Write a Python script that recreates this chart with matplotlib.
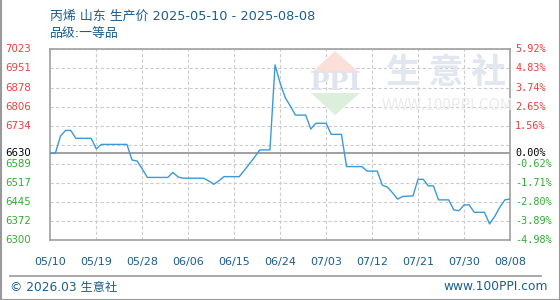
import matplotlib.pyplot as plt
import matplotlib.dates as mdates
import numpy as np
import pandas as pd
from matplotlib.lines import Line2D
from matplotlib.patches import Polygon
from matplotlib.transforms import blended_transform_factory

plt.rcParams['font.family'] = ['Noto Sans CJK SC', 'DejaVu Sans']

# price readings (date, yuan/ton)
dates = ['2025-05-10', '2025-05-11', '2025-05-12', '2025-05-13', '2025-05-14', '2025-05-15',
         '2025-05-18', '2025-05-19', '2025-05-20', '2025-05-25', '2025-05-26', '2025-05-27',
         '2025-05-28', '2025-05-29', '2025-06-02', '2025-06-03', '2025-06-04', '2025-06-05',
         '2025-06-09', '2025-06-10', '2025-06-11', '2025-06-12', '2025-06-13', '2025-06-16',
         '2025-06-17', '2025-06-18', '2025-06-19', '2025-06-20', '2025-06-22', '2025-06-23',
         '2025-06-24', '2025-06-25', '2025-06-26', '2025-06-27', '2025-06-29', '2025-06-30',
         '2025-07-01', '2025-07-03', '2025-07-04', '2025-07-06', '2025-07-07', '2025-07-10',
         '2025-07-11', '2025-07-13', '2025-07-14', '2025-07-15', '2025-07-16', '2025-07-17',
         '2025-07-18', '2025-07-20', '2025-07-21', '2025-07-22', '2025-07-23', '2025-07-24',
         '2025-07-25', '2025-07-27', '2025-07-28', '2025-07-29', '2025-07-30', '2025-07-31',
         '2025-08-01', '2025-08-03', '2025-08-04', '2025-08-05', '2025-08-06', '2025-08-07',
         '2025-08-08']
prices = [6630, 6630, 6695, 6716, 6716, 6686,
          6686, 6646, 6663, 6663, 6604, 6600,
          6570, 6538, 6538, 6557, 6540, 6535,
          6535, 6525, 6512, 6525, 6541, 6541,
          6565, 6590, 6615, 6642, 6642, 6964,
          6895, 6840, 6808, 6774, 6774, 6721,
          6743, 6743, 6701, 6701, 6579, 6579,
          6562, 6562, 6509, 6501, 6480, 6456,
          6466, 6468, 6531, 6531, 6506, 6506,
          6453, 6453, 6415, 6412, 6434, 6434,
          6406, 6406, 6362, 6390, 6425, 6453,
          6456]

base_price = 6630
grid_values = [6300, 6372.3, 6444.6, 6516.9, 6589.2, 6661.5, 6733.8, 6806.1, 6878.4, 6950.7, 7023]
left_labels = ['6300', '6372', '6445', '6517', '6589', '', '6734', '6806', '6878', '6951', '7023']
right_labels = ['-4.98%', '-3.89%', '-2.80%', '-1.71%', '-0.62%', '', '1.56%', '2.65%', '3.74%', '4.83%', '5.92%']
x_ticks = ['2025-05-10', '2025-05-19', '2025-05-28', '2025-06-06', '2025-06-15', '2025-06-24',
           '2025-07-03', '2025-07-12', '2025-07-21', '2025-07-30', '2025-08-08']

title = '丙烯 山东 生产价 2025-05-10 - 2025-08-08'
subtitle = '品级:一等品'

W, H = 560, 300
fig = plt.figure(figsize=(W / 100, H / 100), dpi=100)
ax = fig.add_axes([50.3 / W, 1 - 240.3 / H, (510 - 50.3) / W, (240.3 - 49.3) / H])

blue_dark = '#1b5e8c'
red = '#f03c3c'
green = '#33aa33'
frame = '#a0a0a0'
latin_first = ['DejaVu Sans', 'Noto Sans CJK SC']

# watermark (figure pixel coords)
def px(x, y):
    return (x / W, 1 - y / H)

fig.patches.append(Polygon([px(335, 51), px(311, 73), px(360, 73)], closed=True,
                           transform=fig.transFigure, facecolor='#fbe0da', edgecolor='none', zorder=0))
fig.patches.append(Polygon([px(311, 93), px(360, 93), px(335, 115)], closed=True,
                           transform=fig.transFigure, facecolor='#dcefdc', edgecolor='none', zorder=0))
fig.text(335.5 / W, 1 - 83 / H, 'PPI', ha='center', va='center', fontsize=19,
         color='#dfe4ee', family='DejaVu Serif', fontweight='bold', zorder=0)
fig.text(446 / W, 1 - 72 / H, '生 意 社', ha='center', va='center', fontsize=25,
         color='#e1e6ef', fontweight='bold', zorder=0)
fig.text(447 / W, 1 - 106 / H, 'WWW.100PPI.COM', ha='center', va='center', fontsize=11,
         color='#ebebeb', zorder=0)

ax.set_facecolor('none')

x = pd.to_datetime(dates)
ax.plot(x, prices, color='#3a9ad9', lw=1.0, zorder=3)

xt = pd.to_datetime(x_ticks)
ax.set_xlim(xt[0], xt[-1])
ax.set_ylim(grid_values[0], grid_values[-1])

for v in grid_values:
    ax.axhline(v, color='#cccccc', lw=0.8, ls=(0, (3, 2)), zorder=1)
for d in xt[1:-1]:
    ax.axvline(d, color='#cccccc', lw=0.8, ls=(0, (3, 2)), zorder=1)
ax.axhline(base_price, color='#999999', lw=1.3, zorder=2)

ax.set_xticks(xt)
ax.set_xticklabels([d.strftime('%m/%d') for d in xt], color=blue_dark, fontsize=8,
                   family='DejaVu Sans')
ax.tick_params(axis='x', length=0, pad=12)
ax.set_yticks([])
for s in ax.spines.values():
    s.set_color(frame)
    s.set_linewidth(1.2)

# left / right value labels
tr = blended_transform_factory(fig.transFigure, ax.transData)
for v, lab, pl in zip(grid_values, left_labels, right_labels):
    if not lab:
        continue
    c = red if v > base_price else green
    ax.text(5 / W, v, lab, transform=tr, ha='left', va='center', fontsize=7.3,
            color=c, family='DejaVu Sans')
    ax.text(515 / W, v, pl, transform=tr, ha='left', va='center', fontsize=7.3,
            color=c, family='DejaVu Sans Mono')
ax.text(5 / W, base_price, str(base_price), transform=tr, ha='left', va='center',
        fontsize=7.3, color='black', family='DejaVu Sans')
ax.text(515 / W, base_price, '0.00%', transform=tr, ha='left', va='center',
        fontsize=7.3, color='black', family='DejaVu Sans Mono')

# titles
fig.text(50 / W, 1 - 16 / H, title, ha='left', va='center', fontsize=9.3, color=blue_dark,
         family=latin_first)
fig.text(50 / W, 1 - 33 / H, subtitle, ha='left', va='center', fontsize=9.3, color=blue_dark,
         family=latin_first)

# footer
fig.add_artist(Line2D([10 / W, 541 / W], [1 - 275.5 / H] * 2, color='#999999', lw=1.2))
fig.text(10 / W, 1 - 287 / H, '© 2026.03 生意社', ha='left', va='center', fontsize=8.8,
         color=blue_dark, family=latin_first)
fig.text(548 / W, 1 - 287 / H, 'www.100PPI.com', ha='right', va='center', fontsize=8.8,
         color=blue_dark, family=latin_first)

# outer border (left, right, bottom)
fig.add_artist(Line2D([0.5 / W, 0.5 / W], [0, 1], color='#999999', lw=1.5))
fig.add_artist(Line2D([1 - 0.5 / W, 1 - 0.5 / W], [0, 1], color='#999999', lw=1.5))
fig.add_artist(Line2D([0, 1], [0.5 / H, 0.5 / H], color='#999999', lw=1.5))

fig.savefig('out.png', dpi=100)
